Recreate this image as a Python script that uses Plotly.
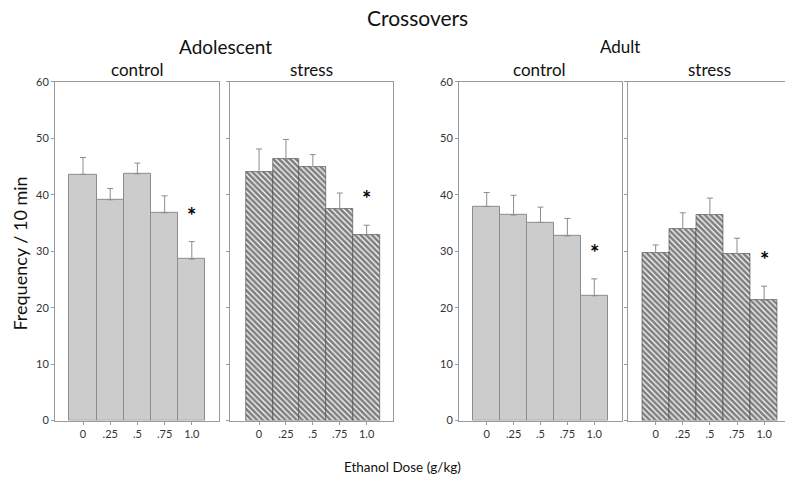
import plotly.graph_objects as go

doses = ["0", ".25", ".5", ".75", "1.0"]

adol_control = [43.6, 39.1, 43.7, 36.8, 28.6]
adol_control_err = [3.0, 2.0, 1.9, 3.0, 3.1]
adol_stress = [44.1, 46.3, 45.0, 37.5, 32.9]
adol_stress_err = [4.0, 3.5, 2.1, 2.8, 1.7]
adult_control = [37.9, 36.4, 35.1, 32.7, 22.1]
adult_control_err = [2.5, 3.5, 2.7, 3.1, 3.0]
adult_stress = [29.7, 34.0, 36.5, 29.6, 21.3]
adult_stress_err = [1.4, 2.8, 2.9, 2.7, 2.5]

panels = [
    ("control", adol_control, adol_control_err, False),
    ("stress", adol_stress, adol_stress_err, True),
    ("control", adult_control, adult_control_err, False),
    ("stress", adult_stress, adult_stress_err, True),
]

W, H = 785, 483


def py(y):
    # map a target pixel row to paper coordinates (as rendered)
    return 1 - (y - 7.5) / 468.0


px_domains = [(55, 219), (230, 393), (459, 621.7), (628.3, 785)]
x_ranges = [[-1.03, 5.0], [-1.08, 4.98], [-1.03, 5.02], [-1.01, 4.77]]
title_x = [137, 311.5, 539, 709]
ydom = [py(419.3), py(82)]

FONT = "Lato, 'Open Sans', sans-serif"
AX = "#9a9a9a"

fig = go.Figure()
for i, (name, vals, errs, hatched) in enumerate(panels):
    xa = "x" if i == 0 else f"x{i+1}"
    ya = "y" if i == 0 else f"y{i+1}"
    idx = list(range(len(doses)))
    if hatched:
        marker = dict(color="white",
                      pattern=dict(shape="\\", fgcolor="#000000", bgcolor="white",
                                   size=4, solidity=0.68),
                      line=dict(color="#444444", width=0.6))
    else:
        marker = dict(color="#cccccc", line=dict(color="#8c8c8c", width=1))
    fig.add_trace(go.Bar(
        x=idx, y=vals, width=1.0, marker=marker,
        error_y=dict(type="data", symmetric=False, array=errs,
                     arrayminus=[0] * len(errs), color="#8c8c8c",
                     thickness=1, width=3),
        xaxis=xa, yaxis=ya, showlegend=False, hoverinfo="skip"))
    # significance star on last dose
    fig.add_annotation(x=idx[-1], y=vals[-1] + errs[-1] + 4.7, text="<b>*</b>",
                       showarrow=False, xref=xa, yref=ya,
                       font=dict(size=22, color="#000000", family=FONT),
                       xanchor="center", yanchor="middle")
    d0, d1 = px_domains[i]
    xkey = "xaxis" if i == 0 else f"xaxis{i+1}"
    ykey = "yaxis" if i == 0 else f"yaxis{i+1}"
    fig.layout[xkey] = dict(
        domain=[d0 / W, d1 / W], range=x_ranges[i], anchor=ya,
        tickmode="array", tickvals=idx, ticktext=doses,
        showline=True, linecolor=AX, linewidth=1, mirror=True,
        ticks="outside", ticklen=3, tickcolor=AX,
        showgrid=False, zeroline=False, fixedrange=True,
        tickfont=dict(size=11, color="#333333", family=FONT))
    fig.layout[ykey] = dict(
        domain=ydom, range=[0, 60], anchor=xa,
        tickvals=[0, 10, 20, 30, 40, 50, 60],
        showticklabels=(i in (0, 2)),
        showline=True, linecolor=AX, linewidth=1, mirror=(i != 3),
        ticks="outside", ticklen=3, tickcolor=AX,
        showgrid=False, zeroline=False, fixedrange=True,
        tickfont=dict(size=11, color="#333333", family=FONT))
    fig.add_annotation(x=title_x[i] / W, y=py(70),
                       xref="paper", yref="paper", text=name, showarrow=False,
                       font=dict(size=17, color="#111111", family=FONT),
                       xanchor="center", yanchor="middle")

titles = [("Crossovers", 417, 18, 21), ("Adolescent", 225, 47, 19), ("Adult", 620, 47, 17),
          ("Ethanol Dose (g/kg)", 402, 466, 13.5)]
for t, x, y, s in titles:
    fig.add_annotation(x=x / W, y=py(y), xref="paper", yref="paper", text=t,
                       showarrow=False, xanchor="center", yanchor="middle",
                       font=dict(size=s, color="#111111", family=FONT))
fig.add_annotation(x=20 / W, y=py(253), xref="paper", yref="paper",
                   text="Frequency / 10 min", textangle=-90, showarrow=False,
                   xanchor="center", yanchor="middle",
                   font=dict(size=18, color="#111111", family=FONT))

fig.update_layout(width=W, height=H, margin=dict(l=0, r=0, t=0, b=0),
                  plot_bgcolor="white", paper_bgcolor="white", bargap=0)
fig.write_html("out.html", config={"displayModeBar": False},
               post_script="document.body.style.margin='0';"
                           "document.body.style.overflow='hidden';")
